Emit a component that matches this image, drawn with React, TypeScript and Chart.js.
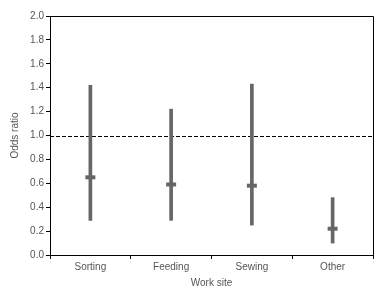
import React, { useEffect, useRef } from "react";
import { Chart, registerables } from "chart.js";

Chart.register(...registerables);

const categories = ["Sorting", "Feeding", "Sewing", "Other"];
const oddsRatio = [0.65, 0.59, 0.58, 0.22];
const ciLower = [0.29, 0.29, 0.25, 0.1];
const ciUpper = [1.42, 1.22, 1.43, 0.48];
const referenceValue = 1.0;
const yTitle = "Odds ratio";
const xTitle = "Work site";

const markColor = "#666666";
const textColor = "#555555";
const fontFamily = "'Liberation Sans', Arial, sans-serif";

const framePlugin = {
  id: "frameAndReference",
  beforeDatasetsDraw(chart: any) {
    const { ctx, chartArea, scales } = chart;
    const y = scales.y.getPixelForValue(referenceValue);
    ctx.save();
    ctx.strokeStyle = "#000";
    ctx.lineWidth = 1;
    ctx.setLineDash([4, 2]);
    ctx.beginPath();
    ctx.moveTo(chartArea.left, Math.round(y) + 0.5);
    ctx.lineTo(chartArea.right, Math.round(y) + 0.5);
    ctx.stroke();
    ctx.setLineDash([]);
    ctx.beginPath();
    ctx.moveTo(chartArea.left, Math.round(chartArea.top) + 0.5);
    ctx.lineTo(Math.round(chartArea.right) + 0.5, Math.round(chartArea.top) + 0.5);
    ctx.lineTo(Math.round(chartArea.right) + 0.5, chartArea.bottom);
    ctx.stroke();
    ctx.restore();
  },
};

export default function App() {
  const ref = useRef<HTMLCanvasElement>(null);
  useEffect(() => {
    if (!ref.current) return;
    const chart = new Chart(ref.current, {
      type: "bar",
      data: {
        labels: categories,
        datasets: [
          {
            type: "line" as any,
            data: oddsRatio,
            showLine: false,
            pointStyle: "line",
            pointRadius: 5,
            pointHoverRadius: 5,
            pointBorderWidth: 4,
            borderColor: markColor,
            backgroundColor: markColor,
            order: 0,
          } as any,
          {
            type: "bar",
            data: categories.map((_, i) => [ciLower[i], ciUpper[i]]) as any,
            backgroundColor: markColor,
            borderWidth: 0,
            barThickness: 3,
            order: 1,
          },
        ],
      },
      options: {
        animation: false,
        responsive: false,
        maintainAspectRatio: false,
        layout: { padding: { left: 0, right: 12, top: 16, bottom: 3 } },
        plugins: { legend: { display: false }, tooltip: { enabled: false } },
        scales: {
          x: {
            offset: true,
            grid: {
              offset: true,
              drawOnChartArea: false,
              drawTicks: true,
              tickLength: 4,
              color: "#000",
            },
            border: { display: true, color: "#000", width: 1 },
            ticks: {
              color: textColor,
              font: { family: fontFamily, size: 10 },
              padding: 2,
            },
            title: {
              display: true,
              text: xTitle,
              color: textColor,
              font: { family: fontFamily, size: 10 },
              padding: 0,
            },
            afterFit: (scale: any) => {
              scale.height = 34;
            },
          },
          y: {
            min: 0,
            max: 2,
            grid: {
              drawOnChartArea: false,
              drawTicks: true,
              tickLength: 4,
              color: "#000",
            },
            border: { display: true, color: "#000", width: 1 },
            ticks: {
              stepSize: 0.2,
              color: textColor,
              font: { family: fontFamily, size: 10 },
              padding: 2,
              callback: (v: any) => Number(v).toFixed(1),
            },
            title: {
              display: true,
              text: yTitle,
              color: textColor,
              font: { family: fontFamily, size: 10 },
              padding: { top: 9, bottom: 0 },
            },
            afterFit: (scale: any) => {
              scale.width = 50;
            },
          },
        },
      },
      plugins: [framePlugin],
    });
    return () => chart.destroy();
  }, []);
  return (
    <div style={{ position: "absolute", left: 0, top: 0, width: 385, height: 292, background: "#fff" }}>
      <canvas ref={ref} width={385} height={292} style={{ width: 385, height: 292 }} />
    </div>
  );
}
